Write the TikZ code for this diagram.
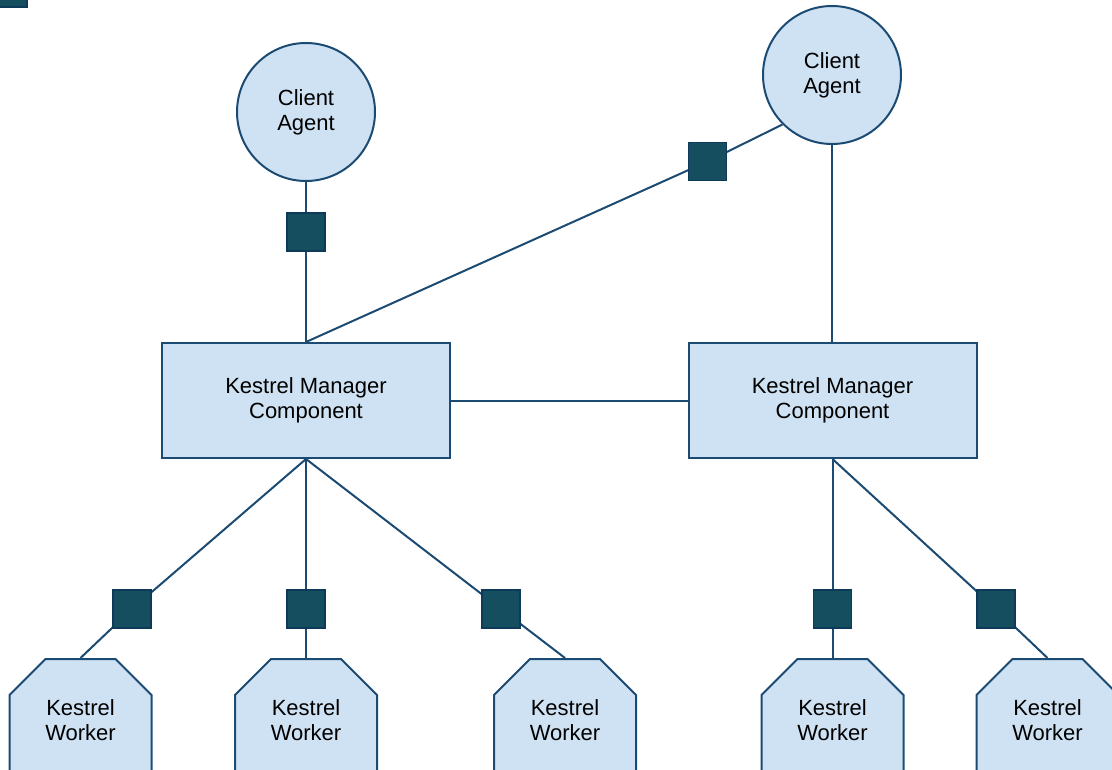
\documentclass[tikz,border=0pt]{standalone}
\usepackage{fontspec}
\setmainfont{Liberation Sans}
\usetikzlibrary{shapes.misc}
\definecolor{nodefill}{HTML}{CFE2F3}
\definecolor{nodeline}{HTML}{1B4A72}
\definecolor{portfill}{HTML}{154E5E}
\definecolor{portline}{HTML}{0E3A5A}
\tikzset{
  x=1pt, y=-1pt,
  base/.style={draw=nodeline, line width=2pt, fill=nodefill, align=center,
    font=\fontsize{22}{25}\selectfont, inner sep=0pt},
  agent/.style={base, circle, minimum size=138},
  manager/.style={base, rectangle, minimum width=288, minimum height=115},
  worker/.style={base, chamfered rectangle, chamfered rectangle corners={north west, north east},
    chamfered rectangle xsep=18, chamfered rectangle ysep=18, minimum width=142, minimum height=122},
  port/.style={draw=portline, line width=1.6pt, fill=portfill, rectangle, minimum size=38, inner sep=0pt},
  link/.style={draw=nodeline, line width=2pt}
}
\begin{document}
\begin{tikzpicture}
\clip (0,0) rectangle (1112,770);
\fill[white] (0,0) rectangle (1112,770);

% legend key, mostly outside the page
\node[port] (key) at (8,-12) {};

% client agents
\node[agent] (ca1) at (306,112) {Client\\Agent};
\node[agent] (ca2) at (832,75) {Client\\Agent};

% manager components
\node[manager] (m1) at (306,400.5) {Kestrel Manager\\Component};
\node[manager] (m2) at (832.5,400.5) {Kestrel Manager\\Component};

% workers
\node[worker] (w1) at (80.5,720) {Kestrel\\Worker};
\node[worker] (w2) at (306,720) {Kestrel\\Worker};
\node[worker] (w3) at (565,720) {Kestrel\\Worker};
\node[worker] (w4) at (832.5,720) {Kestrel\\Worker};
\node[worker] (w5) at (1047.5,720) {Kestrel\\Worker};

% ports on connectors
\coordinate (pc1) at (306,232);
\coordinate (pc2) at (707.5,161.5);
\coordinate (pw1) at (132,609);
\coordinate (pw2) at (306,609);
\coordinate (pw3) at (501,609);
\coordinate (pw4) at (832.5,609);
\coordinate (pw5) at (996,609);

% connectors
\draw[link] (ca1.south) -- (pc1) -- (m1.north);
\draw[link] (ca2.225) -- (pc2) -- (m1.north);
\draw[link] (ca2.south) -- (ca2.south |- m2.north);
\draw[link] (m1.east) -- (m2.west);
\draw[link] (m1.south) -- (pw1) -- (w1.north);
\draw[link] (m1.south) -- (pw2) -- (w2.north);
\draw[link] (m1.south) -- (pw3) -- (w3.north);
\draw[link] (m2.south) -- (pw4) -- (w4.north);
\draw[link] (m2.south) -- (pw5) -- (w5.north);

% port squares drawn over the lines
\foreach \p in {pc1,pc2,pw1,pw2,pw3,pw4,pw5}
  \node[port] (sq-\p) at (\p) {};
\end{tikzpicture}
\end{document}
